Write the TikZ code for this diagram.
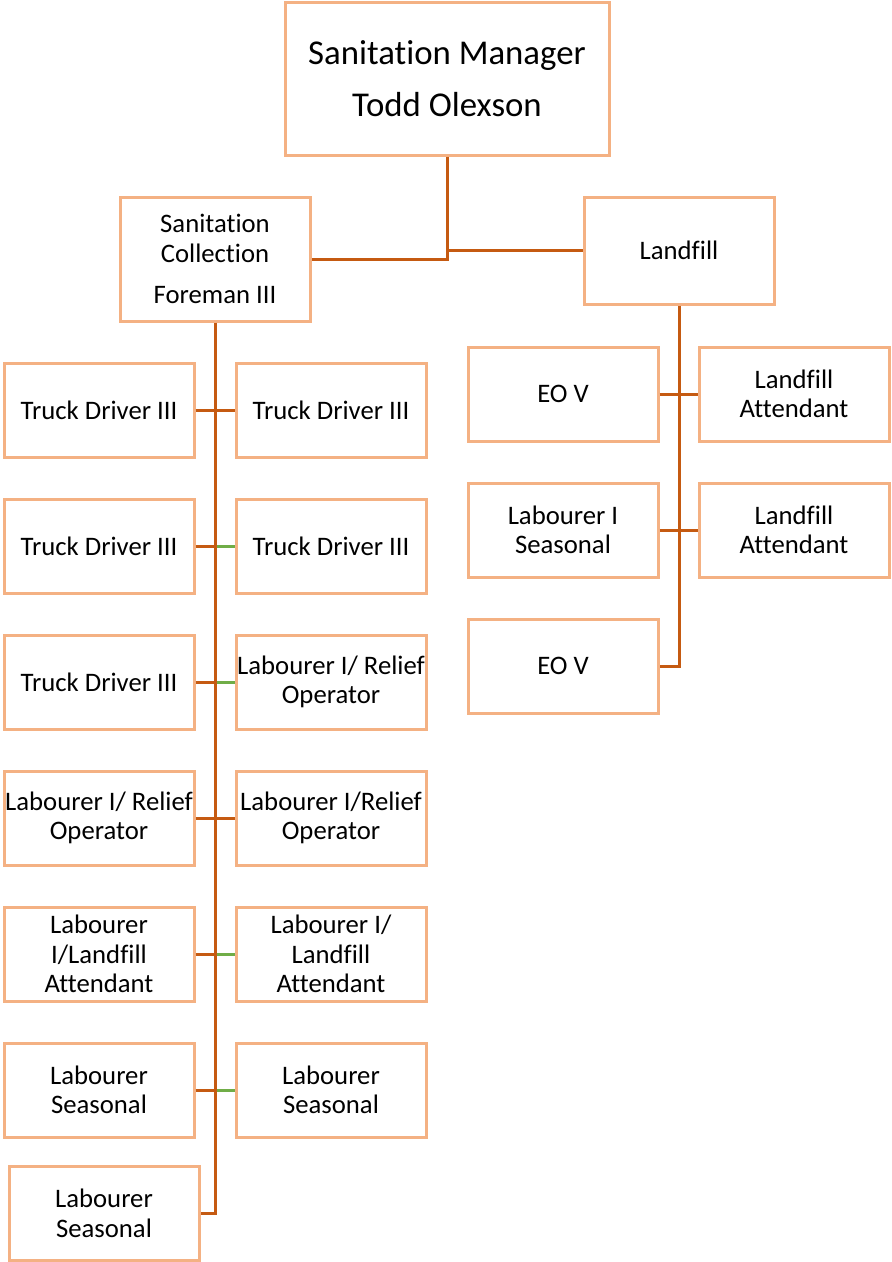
\documentclass[tikz,border=0pt]{standalone}
\usepackage{fontspec}
\setmainfont[Ligatures=NoCommon]{Carlito}
\definecolor{boxc}{HTML}{F4B183}
\definecolor{connc}{HTML}{C55A11}
\definecolor{greenc}{HTML}{70AD47}
\begin{document}
\begin{tikzpicture}[x=1pt,y=-1pt,
  box/.style={draw=boxc,line width=3pt,rectangle,inner sep=0pt,align=center,
    minimum width=190pt,minimum height=94pt,font=\fontsize{26.7}{29.5}\selectfont},
  conn/.style={draw=connc,line width=3pt},
  gconn/.style={draw=greenc,line width=3pt}]
\useasboundingbox (0,0) rectangle (892,1262);
% top
\node[box,minimum width=324pt,minimum height=153pt,font=\fontsize{34.8}{52}\selectfont] (top) at (447,78.5) {Sanitation Manager\\Todd Olexson};
\node[box,minimum height=124pt] (sc) at (215,259) {Sanitation\\Collection\\[12pt]Foreman III};
\node[box,minimum height=107pt] (lf) at (679,250.5) {Landfill};
% left column
\node[box] (l1) at (99,410) {Truck Driver III};
\node[box] (l2) at (99,546) {Truck Driver III};
\node[box] (l3) at (99,682) {Truck Driver III};
\node[box] (l4) at (99,818) {Labourer I/ Relief\\Operator};
\node[box] (l5) at (99,954) {Labourer\\I/Landfill\\Attendant};
\node[box] (l6) at (99,1090) {Labourer\\Seasonal};
\node[box] (l7) at (104,1213.5) {Labourer\\Seasonal};
% right column
\node[box] (r1) at (331,410) {Truck Driver III};
\node[box] (r2) at (331,546) {Truck Driver III};
\node[box] (r3) at (331,682) {Labourer I/ Relief\\Operator};
\node[box] (r4) at (331,818) {Labourer I/Relief\\Operator};
\node[box] (r5) at (331,954) {Labourer I/\\Landfill\\Attendant};
\node[box] (r6) at (331,1090) {Labourer\\Seasonal};
% landfill side
\node[box] (e1) at (563,394) {EO V};
\node[box] (a1) at (794,394) {Landfill\\Attendant};
\node[box] (e2) at (563,530) {Labourer I\\Seasonal};
\node[box] (a2) at (794,530) {Landfill\\Attendant};
\node[box] (e3) at (563,666) {EO V};
% top connectors
\draw[conn] (top.south) -- (top.south |- sc.east) -- (sc.east);
\draw[conn] (top.south |- lf.west) -- (lf.west);
% left branches
\foreach \l/\r/\s in {l1/r1/conn,l2/r2/gconn,l3/r3/gconn,l4/r4/conn,l5/r5/gconn,l6/r6/gconn}{
  \coordinate (j) at (\l.east -| sc.south);
  \draw[conn] (\l.east) -- (j);
  \draw[\s] (j) -- (\r.west);
}
\draw[conn] (sc.south) -- (sc.south |- l7.east) -- (l7.east);
% right branches
\foreach \l/\r in {e1/a1,e2/a2}{
  \draw[conn] (\l.east) -- (\r.west);
}
\draw[conn] (lf.south) -- (lf.south |- e3.east) -- (e3.east);
\end{tikzpicture}
\end{document}
